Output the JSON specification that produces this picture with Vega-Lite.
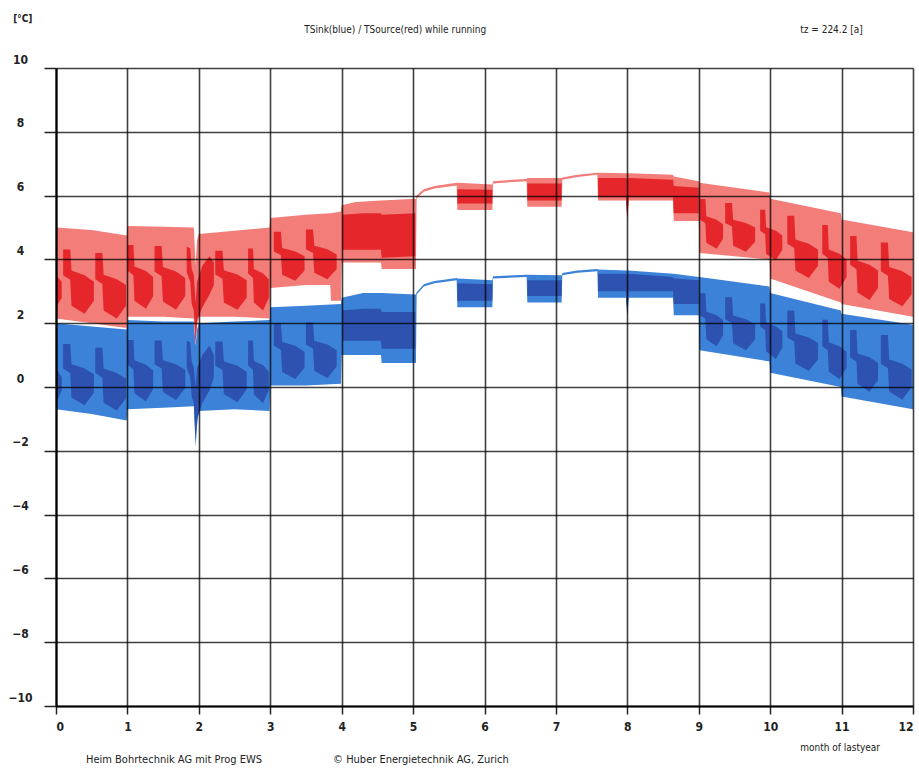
{
  "$schema": "https://vega.github.io/schema/vega-lite/v6.json",
  "width": 857,
  "height": 638,
  "autosize": {"type": "none"},
  "padding": {"left": 56, "top": 68, "right": 6, "bottom": 63},
  "background": "white",
  "config": {"view": {"stroke": null}},
  "datasets": {
    "redLight": [
      {"month":0,"lo":2.15,"hi":5.0},{"month":0.5,"lo":2.0,"hi":4.92},{"month":0.99,"lo":1.85,"hi":4.75},{"month":1.0,"lo":2.2,"hi":5.05},{"month":1.5,"lo":2.2,"hi":5.02},{"month":1.93,"lo":2.15,"hi":5.0},{"month":1.955,"lo":1.3,"hi":3.8},{"month":1.975,"lo":1.9,"hi":4.6},{"month":2.0,"lo":2.2,"hi":4.8},{"month":2.5,"lo":2.2,"hi":4.9},{"month":2.99,"lo":2.15,"hi":5.0},{"month":3.0,"lo":3.1,"hi":5.3},{"month":3.5,"lo":3.2,"hi":5.4},{"month":3.84,"lo":3.2,"hi":5.45},{"month":3.85,"lo":2.7,"hi":5.45},{"month":3.99,"lo":2.7,"hi":5.5},{"month":4.0,"lo":3.9,"hi":5.7},{"month":4.2,"lo":3.9,"hi":5.8},{"month":4.55,"lo":3.9,"hi":5.85},{"month":4.56,"lo":3.7,"hi":5.85},{"month":5.04,"lo":3.7,"hi":5.9},{"month":5.05,"lo":5.92,"hi":6.0},{"month":5.15,"lo":6.12,"hi":6.2},{"month":5.3,"lo":6.22,"hi":6.3},{"month":5.61,"lo":6.32,"hi":6.4},{"month":5.62,"lo":5.55,"hi":6.4},{"month":6.11,"lo":5.55,"hi":6.35},{"month":6.12,"lo":6.38,"hi":6.45},{"month":6.4,"lo":6.43,"hi":6.5},{"month":6.59,"lo":6.45,"hi":6.52},{"month":6.6,"lo":5.65,"hi":6.55},{"month":7.08,"lo":5.65,"hi":6.55},{"month":7.09,"lo":6.5,"hi":6.57},{"month":7.3,"lo":6.58,"hi":6.65},{"month":7.58,"lo":6.65,"hi":6.72},{"month":7.59,"lo":5.85,"hi":6.72},{"month":7.98,"lo":5.85,"hi":6.7},{"month":8.0,"lo":5.2,"hi":6.7},{"month":8.02,"lo":5.85,"hi":6.7},{"month":8.64,"lo":5.85,"hi":6.65},{"month":8.65,"lo":5.2,"hi":6.6},{"month":9.0,"lo":5.2,"hi":6.45},{"month":9.01,"lo":4.2,"hi":6.4},{"month":9.99,"lo":4.0,"hi":6.1},{"month":10.0,"lo":3.4,"hi":5.9},{"month":10.99,"lo":2.65,"hi":5.45},{"month":11.0,"lo":2.6,"hi":5.25},{"month":12.0,"lo":2.2,"hi":4.85}
    ],
    "blueLight": [
      {"month":0,"lo":-0.7,"hi":2.0},{"month":0.5,"lo":-0.85,"hi":1.9},{"month":0.99,"lo":-1.05,"hi":1.8},{"month":1.0,"lo":-0.7,"hi":2.1},{"month":1.5,"lo":-0.65,"hi":2.05},{"month":1.93,"lo":-0.6,"hi":2.05},{"month":1.955,"lo":-1.9,"hi":1.3},{"month":1.975,"lo":-1.2,"hi":1.8},{"month":2.0,"lo":-0.75,"hi":2.0},{"month":2.5,"lo":-0.7,"hi":2.05},{"month":2.99,"lo":-0.75,"hi":2.1},{"month":3.0,"lo":0.05,"hi":2.5},{"month":3.5,"lo":0.05,"hi":2.55},{"month":3.99,"lo":0.1,"hi":2.6},{"month":4.0,"lo":1.0,"hi":2.8},{"month":4.3,"lo":1.0,"hi":2.95},{"month":4.55,"lo":1.0,"hi":2.95},{"month":4.56,"lo":0.75,"hi":2.95},{"month":5.04,"lo":0.75,"hi":2.9},{"month":5.05,"lo":2.9,"hi":2.97},{"month":5.15,"lo":3.15,"hi":3.22},{"month":5.3,"lo":3.25,"hi":3.32},{"month":5.61,"lo":3.35,"hi":3.42},{"month":5.62,"lo":2.5,"hi":3.4},{"month":6.11,"lo":2.5,"hi":3.35},{"month":6.12,"lo":3.4,"hi":3.47},{"month":6.59,"lo":3.45,"hi":3.52},{"month":6.6,"lo":2.65,"hi":3.52},{"month":7.08,"lo":2.65,"hi":3.5},{"month":7.09,"lo":3.5,"hi":3.57},{"month":7.3,"lo":3.58,"hi":3.65},{"month":7.58,"lo":3.63,"hi":3.7},{"month":7.59,"lo":2.8,"hi":3.68},{"month":7.98,"lo":2.8,"hi":3.65},{"month":8.0,"lo":2.2,"hi":3.65},{"month":8.02,"lo":2.8,"hi":3.65},{"month":8.64,"lo":2.8,"hi":3.55},{"month":8.65,"lo":2.25,"hi":3.55},{"month":9.0,"lo":2.25,"hi":3.45},{"month":9.01,"lo":1.15,"hi":3.45},{"month":9.99,"lo":0.8,"hi":3.15},{"month":10.0,"lo":0.45,"hi":2.95},{"month":10.99,"lo":0.0,"hi":2.4},{"month":11.0,"lo":-0.3,"hi":2.3},{"month":12.0,"lo":-0.7,"hi":1.95}
    ],
    "redDark": [
      {"piece":0,"month":0,"lo":2.5,"hi":3.5},{"piece":0,"month":0.08,"lo":2.8,"hi":3.3},
      {"piece":1,"month":0.1,"lo":3.5,"hi":4.31},{"piece":1,"month":0.199,"lo":3.36,"hi":4.31},{"piece":1,"month":0.217,"lo":2.55,"hi":3.65},{"piece":1,"month":0.4,"lo":2.3,"hi":3.5},{"piece":1,"month":0.53,"lo":2.7,"hi":3.3},
      {"piece":2,"month":0.55,"lo":3.38,"hi":4.2},{"piece":2,"month":0.649,"lo":3.23,"hi":4.2},{"piece":2,"month":0.667,"lo":2.4,"hi":3.52},{"piece":2,"month":0.85,"lo":2.15,"hi":3.38},{"piece":2,"month":0.98,"lo":2.55,"hi":3.2},
      {"piece":3,"month":1.005,"lo":3.64,"hi":4.45},{"piece":3,"month":1.084,"lo":3.5,"hi":4.45},{"piece":3,"month":1.099,"lo":2.7,"hi":3.78},{"piece":3,"month":1.26,"lo":2.45,"hi":3.64},{"piece":3,"month":1.36,"lo":2.85,"hi":3.45},
      {"piece":4,"month":1.38,"lo":3.62,"hi":4.42},{"piece":4,"month":1.479,"lo":3.47,"hi":4.42},{"piece":4,"month":1.497,"lo":2.68,"hi":3.76},{"piece":4,"month":1.68,"lo":2.42,"hi":3.62},{"piece":4,"month":1.81,"lo":2.85,"hi":3.42},
      {"piece":5,"month":1.83,"lo":3.6,"hi":4.4},{"piece":5,"month":1.88,"lo":3.3,"hi":4.35},{"piece":5,"month":1.9,"lo":2.6,"hi":3.7},{"piece":5,"month":1.93,"lo":2.4,"hi":3.5},{"piece":5,"month":1.955,"lo":1.4,"hi":2.6},{"piece":5,"month":1.975,"lo":2.1,"hi":3.3},{"piece":5,"month":2.05,"lo":2.5,"hi":3.8},{"piece":5,"month":2.15,"lo":2.9,"hi":4.1},{"piece":5,"month":2.21,"lo":3.2,"hi":3.9},
      {"piece":6,"month":2.23,"lo":3.53,"hi":4.27},{"piece":6,"month":2.331,"lo":3.39,"hi":4.27},{"piece":6,"month":2.35,"lo":2.65,"hi":3.66},{"piece":6,"month":2.54,"lo":2.42,"hi":3.53},{"piece":6,"month":2.67,"lo":2.8,"hi":3.35},
      {"piece":7,"month":2.69,"lo":3.56,"hi":4.34},{"piece":7,"month":2.758,"lo":3.42,"hi":4.34},{"piece":7,"month":2.771,"lo":2.65,"hi":3.7},{"piece":7,"month":2.9,"lo":2.4,"hi":3.56},{"piece":7,"month":2.98,"lo":2.8,"hi":3.38},
      {"piece":8,"month":3.05,"lo":4.25,"hi":4.87},{"piece":8,"month":3.149,"lo":4.14,"hi":4.87},{"piece":8,"month":3.167,"lo":3.52,"hi":4.36},{"piece":8,"month":3.35,"lo":3.33,"hi":4.25},{"piece":8,"month":3.48,"lo":3.65,"hi":4.1},
      {"piece":9,"month":3.5,"lo":4.32,"hi":4.94},{"piece":9,"month":3.599,"lo":4.2,"hi":4.94},{"piece":9,"month":3.617,"lo":3.58,"hi":4.43},{"piece":9,"month":3.8,"lo":3.38,"hi":4.32},{"piece":9,"month":3.93,"lo":3.7,"hi":4.15},
      {"piece":10,"month":4.01,"lo":4.3,"hi":5.4},{"piece":10,"month":4.3,"lo":4.3,"hi":5.45},{"piece":10,"month":4.55,"lo":4.3,"hi":5.45},{"piece":10,"month":4.56,"lo":4.05,"hi":5.4},{"piece":10,"month":5.03,"lo":4.1,"hi":5.45},
      {"piece":11,"month":5.62,"lo":5.75,"hi":6.2},{"piece":11,"month":6.11,"lo":5.75,"hi":6.18},
      {"piece":12,"month":6.6,"lo":5.85,"hi":6.38},{"piece":12,"month":7.08,"lo":5.85,"hi":6.38},
      {"piece":13,"month":7.59,"lo":5.95,"hi":6.55},{"piece":13,"month":7.98,"lo":5.95,"hi":6.55},{"piece":13,"month":8.0,"lo":5.3,"hi":6.5},{"piece":13,"month":8.02,"lo":5.95,"hi":6.55},{"piece":13,"month":8.64,"lo":5.95,"hi":6.5},{"piece":13,"month":8.65,"lo":5.45,"hi":6.3},{"piece":13,"month":9.0,"lo":5.45,"hi":6.25},
      {"piece":14,"month":9.02,"lo":5.24,"hi":5.89},{"piece":14,"month":9.093,"lo":5.13,"hi":5.89},{"piece":14,"month":9.106,"lo":4.52,"hi":5.35},{"piece":14,"month":9.25,"lo":4.33,"hi":5.24},{"piece":14,"month":9.34,"lo":4.65,"hi":5.1},
      {"piece":15,"month":9.37,"lo":5.14,"hi":5.77},{"piece":15,"month":9.465,"lo":5.03,"hi":5.77},{"piece":15,"month":9.482,"lo":4.43,"hi":5.24},{"piece":15,"month":9.66,"lo":4.24,"hi":5.14},{"piece":15,"month":9.79,"lo":4.55,"hi":5.0},
      {"piece":16,"month":9.86,"lo":4.9,"hi":5.56},{"piece":16,"month":9.93,"lo":4.79,"hi":5.56},{"piece":16,"month":9.943,"lo":4.17,"hi":5.01},{"piece":16,"month":10.08,"lo":3.98,"hi":4.9},{"piece":16,"month":10.17,"lo":4.3,"hi":4.75},
      {"piece":17,"month":10.24,"lo":4.49,"hi":5.37},{"piece":17,"month":10.337,"lo":4.36,"hi":5.37},{"piece":17,"month":10.354,"lo":3.65,"hi":4.62},{"piece":17,"month":10.54,"lo":3.42,"hi":4.49},{"piece":17,"month":10.67,"lo":3.8,"hi":4.3},
      {"piece":18,"month":10.73,"lo":4.18,"hi":5.08},{"piece":18,"month":10.807,"lo":4.04,"hi":5.08},{"piece":18,"month":10.821,"lo":3.3,"hi":4.31},{"piece":18,"month":10.97,"lo":3.08,"hi":4.18},{"piece":18,"month":11.07,"lo":3.45,"hi":4.0},
      {"piece":19,"month":11.12,"lo":3.83,"hi":4.73},{"piece":19,"month":11.208,"lo":3.69,"hi":4.73},{"piece":19,"month":11.224,"lo":2.96,"hi":3.96},{"piece":19,"month":11.39,"lo":2.73,"hi":3.83},{"piece":19,"month":11.51,"lo":3.1,"hi":3.65},
      {"piece":20,"month":11.55,"lo":3.63,"hi":4.53},{"piece":20,"month":11.649,"lo":3.49,"hi":4.53},{"piece":20,"month":11.667,"lo":2.76,"hi":3.76},{"piece":20,"month":11.85,"lo":2.53,"hi":3.63},{"piece":20,"month":11.98,"lo":2.9,"hi":3.45}
    ],
    "blueDark": [
      {"piece":0,"month":0,"lo":-0.5,"hi":0.6},{"piece":0,"month":0.08,"lo":-0.1,"hi":0.3},
      {"piece":1,"month":0.1,"lo":0.58,"hi":1.35},{"piece":1,"month":0.199,"lo":0.44,"hi":1.35},{"piece":1,"month":0.217,"lo":-0.33,"hi":0.71},{"piece":1,"month":0.4,"lo":-0.57,"hi":0.58},{"piece":1,"month":0.53,"lo":-0.18,"hi":0.4},
      {"piece":2,"month":0.55,"lo":0.44,"hi":1.23},{"piece":2,"month":0.649,"lo":0.3,"hi":1.23},{"piece":2,"month":0.667,"lo":-0.49,"hi":0.58},{"piece":2,"month":0.85,"lo":-0.74,"hi":0.44},{"piece":2,"month":0.98,"lo":-0.35,"hi":0.26},
      {"piece":3,"month":1.005,"lo":0.7,"hi":1.47},{"piece":3,"month":1.084,"lo":0.56,"hi":1.47},{"piece":3,"month":1.099,"lo":-0.2,"hi":0.84},{"piece":3,"month":1.26,"lo":-0.45,"hi":0.7},{"piece":3,"month":1.36,"lo":-0.06,"hi":0.52},
      {"piece":4,"month":1.38,"lo":0.71,"hi":1.46},{"piece":4,"month":1.479,"lo":0.58,"hi":1.46},{"piece":4,"month":1.497,"lo":-0.16,"hi":0.84},{"piece":4,"month":1.68,"lo":-0.41,"hi":0.71},{"piece":4,"month":1.81,"lo":-0.03,"hi":0.54},
      {"piece":5,"month":1.83,"lo":0.6,"hi":1.45},{"piece":5,"month":1.88,"lo":0.3,"hi":1.4},{"piece":5,"month":1.9,"lo":-0.3,"hi":0.8},{"piece":5,"month":1.93,"lo":-0.5,"hi":0.6},{"piece":5,"month":1.955,"lo":-1.7,"hi":0.0},{"piece":5,"month":1.975,"lo":-1.0,"hi":0.6},{"piece":5,"month":2.05,"lo":-0.5,"hi":1.0},{"piece":5,"month":2.15,"lo":-0.1,"hi":1.3},{"piece":5,"month":2.21,"lo":0.3,"hi":1.0},
      {"piece":6,"month":2.23,"lo":0.67,"hi":1.43},{"piece":6,"month":2.331,"lo":0.53,"hi":1.43},{"piece":6,"month":2.35,"lo":-0.22,"hi":0.8},{"piece":6,"month":2.54,"lo":-0.48,"hi":0.67},{"piece":6,"month":2.67,"lo":-0.07,"hi":0.48},
      {"piece":7,"month":2.69,"lo":0.68,"hi":1.46},{"piece":7,"month":2.758,"lo":0.53,"hi":1.46},{"piece":7,"month":2.771,"lo":-0.24,"hi":0.82},{"piece":7,"month":2.9,"lo":-0.5,"hi":0.68},{"piece":7,"month":2.98,"lo":-0.1,"hi":0.48},
      {"piece":8,"month":3.05,"lo":1.29,"hi":1.98},{"piece":8,"month":3.149,"lo":1.16,"hi":1.98},{"piece":8,"month":3.167,"lo":0.47,"hi":1.41},{"piece":8,"month":3.35,"lo":0.25,"hi":1.29},{"piece":8,"month":3.48,"lo":0.6,"hi":1.1},
      {"piece":9,"month":3.5,"lo":1.33,"hi":2.02},{"piece":9,"month":3.599,"lo":1.2,"hi":2.02},{"piece":9,"month":3.617,"lo":0.51,"hi":1.45},{"piece":9,"month":3.8,"lo":0.28,"hi":1.33},{"piece":9,"month":3.93,"lo":0.64,"hi":1.15},
      {"piece":10,"month":4.01,"lo":1.45,"hi":2.4},{"piece":10,"month":4.3,"lo":1.45,"hi":2.45},{"piece":10,"month":4.55,"lo":1.45,"hi":2.45},{"piece":10,"month":4.56,"lo":1.2,"hi":2.35},{"piece":10,"month":5.03,"lo":1.2,"hi":2.35},
      {"piece":11,"month":5.62,"lo":2.7,"hi":3.25},{"piece":11,"month":6.11,"lo":2.7,"hi":3.22},
      {"piece":12,"month":6.6,"lo":2.85,"hi":3.35},{"piece":12,"month":7.08,"lo":2.85,"hi":3.35},
      {"piece":13,"month":7.59,"lo":3.0,"hi":3.55},{"piece":13,"month":7.98,"lo":3.0,"hi":3.55},{"piece":13,"month":8.0,"lo":2.3,"hi":3.5},{"piece":13,"month":8.02,"lo":3.0,"hi":3.55},{"piece":13,"month":8.64,"lo":3.0,"hi":3.45},{"piece":13,"month":8.65,"lo":2.6,"hi":3.4},{"piece":13,"month":9.0,"lo":2.6,"hi":3.35},
      {"piece":14,"month":9.02,"lo":2.25,"hi":2.94},{"piece":14,"month":9.093,"lo":2.14,"hi":2.94},{"piece":14,"month":9.106,"lo":1.5,"hi":2.37},{"piece":14,"month":9.25,"lo":1.28,"hi":2.25},{"piece":14,"month":9.34,"lo":1.62,"hi":2.1},
      {"piece":15,"month":9.37,"lo":2.12,"hi":2.81},{"piece":15,"month":9.465,"lo":2.01,"hi":2.81},{"piece":15,"month":9.482,"lo":1.37,"hi":2.24},{"piece":15,"month":9.66,"lo":1.15,"hi":2.12},{"piece":15,"month":9.79,"lo":1.5,"hi":1.97},
      {"piece":16,"month":9.86,"lo":1.9,"hi":2.62},{"piece":16,"month":9.93,"lo":1.78,"hi":2.62},{"piece":16,"month":9.943,"lo":1.12,"hi":2.02},{"piece":16,"month":10.08,"lo":0.88,"hi":1.9},{"piece":16,"month":10.17,"lo":1.25,"hi":1.75},
      {"piece":17,"month":10.24,"lo":1.55,"hi":2.4},{"piece":17,"month":10.337,"lo":1.43,"hi":2.4},{"piece":17,"month":10.354,"lo":0.74,"hi":1.68},{"piece":17,"month":10.54,"lo":0.5,"hi":1.55},{"piece":17,"month":10.67,"lo":0.87,"hi":1.38},
      {"piece":18,"month":10.73,"lo":1.28,"hi":2.11},{"piece":18,"month":10.807,"lo":1.15,"hi":2.11},{"piece":18,"month":10.821,"lo":0.48,"hi":1.4},{"piece":18,"month":10.97,"lo":0.25,"hi":1.28},{"piece":18,"month":11.07,"lo":0.6,"hi":1.1},
      {"piece":19,"month":11.12,"lo":0.93,"hi":1.79},{"piece":19,"month":11.208,"lo":0.8,"hi":1.79},{"piece":19,"month":11.224,"lo":0.1,"hi":1.05},{"piece":19,"month":11.39,"lo":-0.15,"hi":0.93},{"piece":19,"month":11.51,"lo":0.22,"hi":0.75},
      {"piece":20,"month":11.55,"lo":0.73,"hi":1.63},{"piece":20,"month":11.649,"lo":0.59,"hi":1.63},{"piece":20,"month":11.667,"lo":-0.14,"hi":0.86},{"piece":20,"month":11.85,"lo":-0.4,"hi":0.73},{"piece":20,"month":11.98,"lo":0.0,"hi":0.55}
    ]
  },
  "layer": [
    {"data": {"name": "blueLight"}, "mark": {"type": "area", "color": "#3b82d8"},
      "encoding": {
        "x": {"field": "month", "type": "quantitative",
          "scale": {"domain": [0, 12], "nice": false, "zero": false},
          "axis": {"values": [0,1,2,3,4,5,6,7,8,9,10,11,12], "format": "d", "title": null, "grid": true, "gridColor": "#000", "gridOpacity": 0.75, "gridWidth": 1.6,
            "domainColor": "#000", "domainWidth": 2.2, "tickColor": "#222", "tickSize": 8, "tickWidth": 1.5,
            "labelFont": "DejaVu Sans Condensed", "labelFontSize": 12, "labelFontWeight": "bold", "labelColor": "#222", "labelPadding": 7, "labelFlush": true, "zindex": 1}},
        "y": {"field": "lo", "type": "quantitative",
          "scale": {"domain": [-10, 10], "nice": false, "zero": false},
          "axis": {"values": [-10,-8,-6,-4,-2,0,2,4,6,8,10], "format": "d", "title": null, "grid": true, "gridColor": "#000", "gridOpacity": 0.75, "gridWidth": 1.6,
            "domainColor": "#000", "domainWidth": 2.2, "tickColor": "#222", "tickSize": 12, "tickWidth": 1.5,
            "labelFont": "DejaVu Sans Condensed", "labelFontSize": 12, "labelFontWeight": "bold", "labelColor": "#222", "labelPadding": 24, "labelAlign": "center", "labelBaseline": "alphabetic", "labelOffset": -5, "zindex": 1}},
        "y2": {"field": "hi"}
      }},
    {"data": {"name": "blueDark"}, "mark": {"type": "area", "color": "#2d52b0"},
      "encoding": {"x": {"field": "month", "type": "quantitative"}, "y": {"field": "lo", "type": "quantitative"}, "y2": {"field": "hi"}, "detail": {"field": "piece", "type": "nominal"}}},
    {"data": {"name": "redLight"}, "mark": {"type": "area", "color": "#f27d79"},
      "encoding": {"x": {"field": "month", "type": "quantitative"}, "y": {"field": "lo", "type": "quantitative"}, "y2": {"field": "hi"}}},
    {"data": {"name": "redDark"}, "mark": {"type": "area", "color": "#e5262b"},
      "encoding": {"x": {"field": "month", "type": "quantitative"}, "y": {"field": "lo", "type": "quantitative"}, "y2": {"field": "hi"}, "detail": {"field": "piece", "type": "nominal"}}},
    {"data": {"values": [{"note": "TSink(blue) / TSource(red) while running"}]}, "mark": {"type": "text", "align": "center", "baseline": "middle", "font": "DejaVu Sans Condensed", "fontSize": 10, "color": "#222"},
      "encoding": {"x": {"datum": 4.75}, "y": {"datum": 11.19}, "text": {"field": "note"}}},
    {"data": {"values": [{"note": "[°C]"}]}, "mark": {"type": "text", "align": "left", "baseline": "middle", "font": "DejaVu Sans Condensed", "fontSize": 10, "fontWeight": "bold", "color": "#222"},
      "encoding": {"x": {"datum": -0.6}, "y": {"datum": 11.54}, "text": {"field": "note"}}},
    {"data": {"values": [{"note": "tz = 224.2 [a]"}]}, "mark": {"type": "text", "align": "left", "baseline": "middle", "font": "DejaVu Sans Condensed", "fontSize": 10, "color": "#222"},
      "encoding": {"x": {"datum": 10.42}, "y": {"datum": 11.19}, "text": {"field": "note"}}},
    {"data": {"values": [{"note": "month of lastyear"}]}, "mark": {"type": "text", "align": "left", "baseline": "middle", "font": "DejaVu Sans Condensed", "fontSize": 10, "color": "#222"},
      "encoding": {"x": {"datum": 10.42}, "y": {"datum": -11.32}, "text": {"field": "note"}}},
    {"data": {"values": [{"note": "Heim Bohrtechnik AG mit Prog EWS"}]}, "mark": {"type": "text", "align": "left", "baseline": "middle", "font": "DejaVu Sans Condensed", "fontSize": 11, "color": "#222"},
      "encoding": {"x": {"datum": 0.42}, "y": {"datum": -11.69}, "text": {"field": "note"}}},
    {"data": {"values": [{"note": "© Huber Energietechnik AG, Zurich"}]}, "mark": {"type": "text", "align": "left", "baseline": "middle", "font": "DejaVu Sans Condensed", "fontSize": 11, "color": "#222"},
      "encoding": {"x": {"datum": 3.88}, "y": {"datum": -11.69}, "text": {"field": "note"}}}
  ]
}
